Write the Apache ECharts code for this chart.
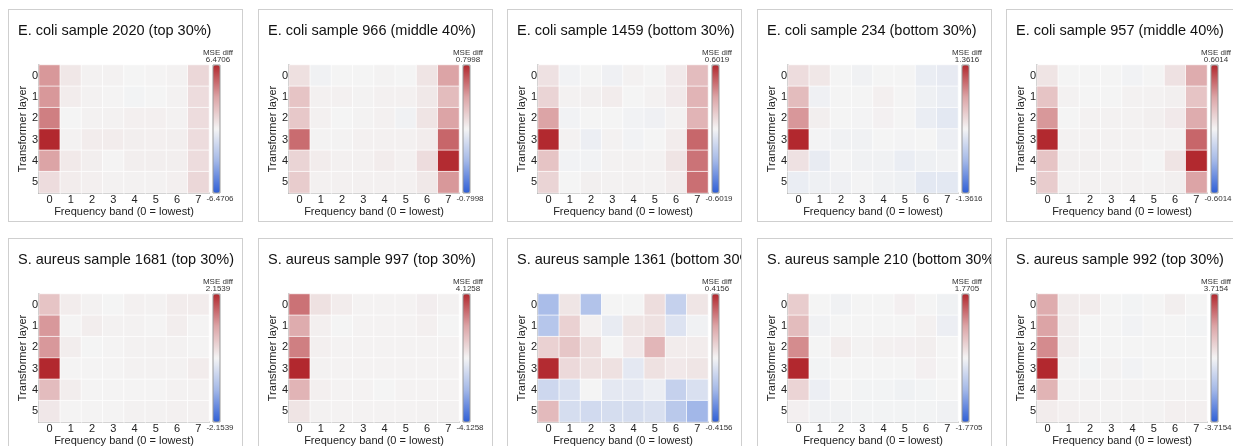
<!DOCTYPE html>
<html>
<head>
<meta charset="utf-8">
<script src="https://cdn.jsdelivr.net/npm/echarts@6/dist/echarts.min.js"></script>
<style>
  html, body { margin: 0; padding: 0; background: #fff; width: 1233px; height: 446px; overflow: hidden; }
  .panel { position: absolute; width: 235px; height: 213px; box-sizing: border-box; border: 1px solid #cfcfcf; overflow: hidden; background: #fff; }
  .panel .chart { position: absolute; left: 0; top: 0; width: 233px; height: 211px; }
</style>
</head>
<body>
<div id="wrap"></div>
<script>
const bands = ['0', '1', '2', '3', '4', '5', '6', '7'];
const layers = ['0', '1', '2', '3', '4', '5'];

const titles = [
  'E. coli sample 2020 (top 30%)',
  'E. coli sample 966 (middle 40%)',
  'E. coli sample 1459 (bottom 30%)',
  'E. coli sample 234 (bottom 30%)',
  'E. coli sample 957 (middle 40%)',
  'S. aureus sample 1681 (top 30%)',
  'S. aureus sample 997 (top 30%)',
  'S. aureus sample 1361 (bottom 30%)',
  'S. aureus sample 210 (bottom 30%)',
  'S. aureus sample 992 (top 30%)'
];
const scaleMax = [6.4706, 0.7998, 0.6019, 1.3616, 0.6014, 2.1539, 4.1258, 0.4156, 1.7705, 3.7154];

// rows = transformer layer 0..5, columns = frequency band 0..7
const ecoli2020 = [
  [3.56, 0.52, 0.13, 0.13, 0.00, 0.06, 0.13, 1.16],
  [3.56, 0.32, 0.13, 0.06, -0.06, 0.00, 0.13, 0.97],
  [4.21, 0.00, 0.13, 0.13, 0.19, 0.19, 0.13, 0.97],
  [6.47, 0.13, 0.32, 0.32, 0.26, 0.19, 0.26, 0.97],
  [3.24, 0.45, 0.26, 0.06, 0.26, 0.26, 0.26, 0.97],
  [0.97, 0.32, 0.19, 0.13, 0.13, 0.13, 0.19, 1.16]
];
const ecoli966 = [
  [0.10, -0.02, 0.00, 0.00, 0.01, 0.00, 0.08, 0.40],
  [0.24, 0.02, 0.02, 0.01, 0.02, 0.02, 0.06, 0.28],
  [0.22, 0.02, 0.00, 0.01, 0.02, -0.02, 0.08, 0.40],
  [0.58, 0.01, 0.01, 0.02, 0.02, 0.02, 0.04, 0.60],
  [0.16, 0.04, 0.02, 0.02, 0.04, 0.02, 0.12, 0.79],
  [0.20, 0.02, 0.02, 0.02, 0.02, 0.02, 0.06, 0.44]
];
const ecoli1459 = [
  [0.07, -0.01, 0.00, -0.02, 0.01, 0.00, 0.04, 0.21],
  [0.12, 0.01, 0.02, 0.03, 0.00, 0.01, 0.04, 0.24],
  [0.30, -0.01, 0.00, 0.00, -0.01, -0.02, 0.01, 0.24],
  [0.60, 0.01, -0.03, 0.01, -0.01, 0.00, 0.03, 0.45],
  [0.18, -0.01, -0.01, 0.01, 0.01, 0.01, 0.06, 0.42],
  [0.12, 0.00, 0.02, 0.01, 0.01, 0.01, 0.03, 0.43]
];
const ecoli234 = [
  [0.20, 0.11, 0.00, -0.03, 0.00, 0.00, -0.08, -0.11],
  [0.48, -0.04, 0.00, 0.00, 0.04, 0.00, -0.05, -0.08],
  [0.75, 0.05, 0.00, -0.01, 0.03, 0.00, -0.08, -0.14],
  [1.36, -0.01, -0.03, -0.03, 0.00, -0.01, 0.00, -0.07],
  [0.16, -0.10, -0.01, -0.03, -0.03, -0.08, -0.05, -0.03],
  [-0.08, -0.05, -0.04, -0.01, -0.03, -0.05, -0.14, -0.14]
];
const ecoli957 = [
  [0.06, 0.00, 0.00, 0.00, -0.01, 0.00, 0.07, 0.27],
  [0.18, 0.01, 0.00, 0.00, 0.01, 0.01, 0.02, 0.18],
  [0.33, 0.00, 0.01, 0.01, 0.01, 0.02, 0.04, 0.27],
  [0.60, 0.01, 0.01, 0.01, 0.01, 0.01, 0.01, 0.45],
  [0.18, 0.02, 0.02, 0.01, 0.01, 0.00, 0.06, 0.60],
  [0.15, 0.01, 0.01, 0.01, 0.01, 0.01, 0.02, 0.30]
];
const saureus1681 = [
  [0.65, 0.11, 0.04, 0.00, 0.06, 0.04, 0.11, 0.11],
  [1.18, 0.02, 0.09, 0.04, 0.04, 0.02, 0.09, 0.02],
  [1.18, 0.09, 0.00, 0.02, 0.04, 0.04, 0.04, 0.02],
  [2.15, 0.02, 0.02, 0.02, 0.04, 0.04, 0.04, 0.11],
  [0.75, 0.09, 0.02, 0.02, 0.02, 0.02, 0.04, 0.04],
  [0.17, 0.02, 0.02, 0.02, 0.04, 0.04, 0.06, 0.06]
];
const saureus997 = [
  [2.89, 0.50, 0.21, 0.04, 0.04, 0.04, 0.17, 0.08],
  [1.86, 0.12, 0.00, 0.04, 0.04, 0.04, 0.12, 0.00],
  [2.68, 0.12, 0.04, 0.04, 0.04, 0.04, 0.04, 0.04],
  [4.12, 0.08, 0.04, 0.04, 0.04, 0.04, 0.04, 0.04],
  [1.65, 0.12, 0.04, 0.04, 0.00, 0.04, 0.04, 0.04],
  [0.41, 0.08, 0.04, 0.04, 0.04, 0.04, 0.08, 0.08]
];
const saureus1361 = [
  [-0.19, 0.04, -0.17, 0.00, 0.00, 0.06, -0.12, 0.04],
  [-0.16, 0.09, 0.01, -0.03, 0.04, 0.05, -0.06, -0.01],
  [0.09, 0.12, 0.06, 0.00, 0.03, 0.16, 0.02, 0.02],
  [0.41, 0.07, 0.05, 0.05, -0.04, 0.05, 0.03, 0.04],
  [-0.10, -0.07, 0.00, -0.04, -0.04, -0.02, -0.12, -0.07],
  [0.15, -0.08, -0.09, -0.08, -0.08, -0.07, -0.15, -0.21]
];
const saureus210 = [
  [0.44, 0.00, -0.04, 0.00, 0.00, 0.05, 0.00, -0.05],
  [0.62, -0.04, 0.00, 0.00, 0.00, 0.00, 0.04, -0.09],
  [1.06, 0.00, 0.09, 0.02, 0.04, 0.05, 0.07, 0.00],
  [1.77, -0.02, 0.00, 0.00, 0.00, 0.00, 0.05, 0.00],
  [0.35, -0.09, 0.00, -0.02, -0.02, -0.05, -0.02, 0.00],
  [0.05, -0.04, -0.04, -0.02, -0.02, -0.02, -0.02, -0.04]
];
const saureus992 = [
  [1.67, 0.22, 0.19, 0.00, -0.04, 0.00, 0.15, 0.00],
  [1.86, 0.22, 0.00, 0.00, -0.07, 0.00, 0.00, -0.04],
  [2.23, 0.22, 0.00, 0.00, 0.00, 0.00, 0.00, 0.00],
  [3.71, 0.07, -0.04, 0.04, -0.07, 0.00, 0.00, 0.00],
  [1.49, 0.07, 0.04, 0.04, 0.04, 0.04, 0.04, 0.04],
  [0.19, 0.11, 0.07, 0.04, 0.04, 0.04, 0.11, 0.11]
];
const grids = [ecoli2020, ecoli966, ecoli1459, ecoli234, ecoli957,
  saureus1681, saureus997, saureus1361, saureus210, saureus992];

const FONT = '"Liberation Sans", Arial, Helvetica, sans-serif';
const wrap = document.getElementById('wrap');

function makePanel(i) {
  const col = i % 5;
  const row = Math.floor(i / 5);
  const panel = document.createElement('div');
  panel.className = 'panel';
  panel.style.left = (8 + col * 249.5) + 'px';
  panel.style.top = (9 + row * 229) + 'px';
  const el = document.createElement('div');
  el.className = 'chart';
  panel.appendChild(el);
  wrap.appendChild(panel);

  const m = scaleMax[i];
  const label = m.toFixed(4);
  const cells = [];
  grids[i].forEach((vals, y) => {
    vals.forEach((v, x) => {
      cells.push([x, y, v]);
    });
  });

  const chart = echarts.init(el);
  chart.setOption({
    animation: false,
    textStyle: { fontFamily: FONT },
    title: {
      text: titles[i],
      left: 9,
      top: 13,
      padding: 0,
      textStyle: { fontSize: 14.5, fontWeight: 'normal', color: '#111', fontFamily: FONT }
    },
    grid: { left: 30, top: 55, width: 170, height: 128, containLabel: false, outerBoundsMode: 'none' },
    xAxis: {
      type: 'category',
      data: bands,
      name: 'Frequency band (0 = lowest)',
      nameLocation: 'middle',
      nameGap: 13,
      nameMoveOverlap: false,
      nameTextStyle: { fontSize: 11, color: '#222' },
      axisLine: { lineStyle: { color: '#666', width: 1.5 } },
      axisTick: { show: false },
      axisLabel: { fontSize: 11, color: '#222', margin: 1 },
      splitArea: { show: false }
    },
    yAxis: {
      type: 'category',
      data: layers,
      inverse: true,
      name: 'Transformer layer',
      nameLocation: 'middle',
      nameGap: 11,
      nameMoveOverlap: false,
      nameTextStyle: { fontSize: 11, color: '#222' },
      axisLine: { lineStyle: { color: '#666', width: 1.5 } },
      axisTick: { show: false },
      axisLabel: { fontSize: 11, color: '#222', margin: 1 },
      splitArea: { show: false }
    },
    visualMap: {
      type: 'continuous',
      min: -m,
      max: m,
      calculable: false,
      orient: 'vertical',
      left: 204,
      top: 55,
      itemWidth: 7,
      itemHeight: 128,
      padding: 0,
      text: null,
      showLabel: false,
      inRange: { color: ['#2f5fd6', '#a3b8e8', '#f4f4f4', '#dca4a6', '#b2282e'] }
    },
    graphic: [
      { type: 'rect', silent: true, z: 100, shape: { x: 204, y: 55, width: 7, height: 128 },
        style: { fill: 'none', stroke: '#999', lineWidth: 1 } },
      { type: 'text', silent: true, x: 209, y: 43,
        style: { text: 'MSE diff', fontSize: 8, fill: '#333', align: 'center', verticalAlign: 'middle', fontFamily: FONT } },
      { type: 'text', silent: true, x: 209, y: 50,
        style: { text: label, fontSize: 8, fill: '#333', align: 'center', verticalAlign: 'middle', fontFamily: FONT } },
      { type: 'text', silent: true, x: 211, y: 189,
        style: { text: '-' + label, fontSize: 8, fill: '#333', align: 'center', verticalAlign: 'middle', fontFamily: FONT } }
    ],
    series: [{
      type: 'heatmap',
      data: cells,
      itemStyle: { borderColor: 'rgba(255,255,255,0.7)', borderWidth: 1 },
      emphasis: { disabled: true }
    }]
  });
}

for (let i = 0; i < titles.length; i++) {
  makePanel(i);
}
</script>
</body>
</html>
